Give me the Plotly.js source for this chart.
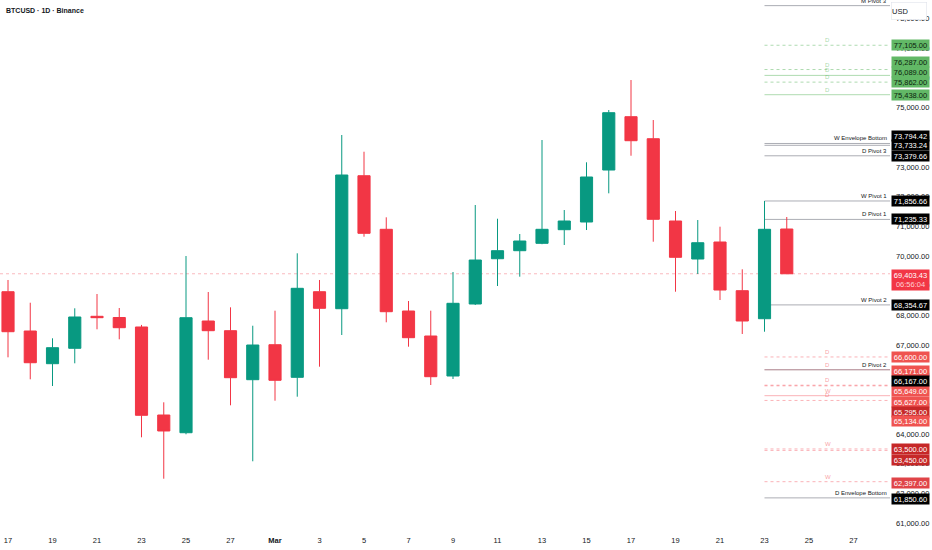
<!DOCTYPE html>
<html>
<head>
<meta charset="utf-8">
<script src="https://cdn.plot.ly/plotly-3.0.1.min.js"></script>
<style>html,body{margin:0;padding:0;background:#fff;}#chart{width:932px;height:550px;}</style>
</head>
<body>
<div id="chart"></div>
<script>
// ---- data ----
const days = ['17','18','19','20','21','22','23','24','25','26','27','28','Mar','2','3','4','5','6','7','8','9','10','11','12','13','14','15','16','17','18','19','20','21','22','23','24'];
const open  = [68799,67475,66373,66892,67970,67930,67610,64644,64047,67812,67485,65834,67013,65914,68799,68226,72708,70902,68149,67306,65958,68385,69911,70181,70430,70889,71148,72900,74697,73955,71182,69901,70474,68833,67889,70912];
const high  = [69194,68428,67229,68240,68722,68250,67680,65072,70002,68789,68273,67653,68159,70093,69194,74080,73517,71306,68486,68159,69463,71721,71259,70744,73911,71552,73160,74922,75933,74585,71519,71215,70990,69554,71856.66,71317];
const low   = [66588,65847,65621,66386,67532,67195,63892,62497,63994,66508,64971,63084,65126,65261,66272,67340,70653,67768,66946,65655,65857,68350,68991,69305,70400,70373,70878,72115,73382,70484,68799,69396,68519,67374,67451,69403.43];
const close = [67451,66406,66912,67947,67923,67586,64634,64105,67923,67485,65901,67003,65813,68914,68240,72732,70767,68125,67249,65935,68408,69867,70181,70508,70902,71182,72665,74832,73888,71239,69958,70450,68856,67812,70902,69403.43];
const tickIdx  = [0,2,4,6,8,10,12,14,16,18,20,22,24,26,28,30,32,34,36,38];
const tickText = ['17','19','21','23','25','27','<b>Mar</b>','3','5','7','9','11','13','15','17','19','21','23','25','27'];

const lastPrice = 69403.43;
const countdown = '06:56:04';

const pivotLevels = [78440, 73794.42, 73733.24, 73379.66, 71856.66, 71235.33, 68354.67, 66167, 61850.6];
const pivotNames  = ['M Pivot 3', 'W Envelope Bottom', '', 'D Pivot 3', 'W Pivot 1', 'D Pivot 1', 'W Pivot 2', 'D Pivot 2', 'D Envelope Bottom'];
const pivotBoxed  = [false, true, true, true, true, true, true, true, true];

const greenLevels  = [77105, 76287, 76089, 75862, 75438];
const greenLetters = ['D','D','D','D','D'];

const redLevels  = [66600, 66171, 65649, 65627, 65295, 65134, 63500, 63450, 62397];
const redLetters = ['D','D','D','','W','D','W','','W'];

// ---- styles (not data) ----
const GREEN = '#089981', RED = '#f23645', TXT = '#131722';
const FONT = 'Liberation Sans, Arial, sans-serif';
const greenDash = ['dot','dot','solid','dot','solid'];
const greenShift = [0, 8, 3, 0, 0];
const redDash = ['dot','solid','dot','dot','solid','dot','dot','dot','dot'];
const redBox  = ['#ef5350','#ef5350','#ef5350','#ef5350','#c62828','#ef5350','#c62828','#c62828','#e04448'];
const redShift = [0, -1, -6, -16, -16, -21, 0, -10, -1];
const pivotShift = [0, 7, 0, 0, 0, 0, 0, -11, -1];

const xs = days.map((d, i) => i);
const levelStart = 34, xRight = 39.64;

const trace = {
  type: 'candlestick', x: xs, open: open, high: high, low: low, close: close,
  increasing: {line: {color: GREEN, width: 1}, fillcolor: GREEN},
  decreasing: {line: {color: RED, width: 1}, fillcolor: RED},
  whiskerwidth: 0, hoverinfo: 'skip'
};

const shapes = [];
const ann = [];
function hline(y, x0, color, dash, w) {
  shapes.push({type: 'line', xref: 'x', yref: 'y', x0: x0, x1: xRight, y0: y, y1: y,
    line: {color: color, width: w || 1, dash: dash}, layer: 'below'});
}
function fmt(v) { return v.toLocaleString('en-US', {minimumFractionDigits: 2, maximumFractionDigits: 2}); }
function box(y, bg, fg, shift) {
  ann.push({xref: 'paper', yref: 'y', x: 1, y: y, xanchor: 'left', yanchor: 'middle', xshift: 1, yshift: shift || 0,
    text: fmt(y), showarrow: false, bgcolor: bg, width: 36, height: 9, borderpad: 0.5,
    font: {family: FONT, size: 7.5, color: fg}});
}
function letter(y, t, color) {
  if (!t) return;
  ann.push({xref: 'x', yref: 'y', x: 36.85, y: y, yanchor: 'bottom', yshift: 0, text: t, showarrow: false,
    font: {family: FONT, size: 6, color: color}});
}

// green levels
greenLevels.forEach((v, i) => {
  hline(v, levelStart, 'rgba(76,175,80,0.45)', greenDash[i]);
  letter(v, greenLetters[i], 'rgba(76,175,80,0.5)');
  box(v, '#62b866', '#0c1f0d', greenShift[i]);
});
// red levels
redLevels.forEach((v, i) => {
  hline(v, levelStart, 'rgba(242,54,69,0.38)', redDash[i]);
  letter(v, redLetters[i], 'rgba(242,54,69,0.5)');
  box(v, redBox[i], '#ffffff', redShift[i]);
});
// pivot levels
pivotLevels.forEach((v, i) => {
  hline(v, levelStart, 'rgba(120,123,134,0.62)', 'solid');
  if (pivotNames[i]) {
    ann.push({xref: 'x', yref: 'y', x: xRight, y: v, xanchor: 'right', yanchor: 'bottom', xshift: -1, yshift: 0,
      text: pivotNames[i], showarrow: false, font: {family: FONT, size: 6, color: TXT}});
  }
  if (pivotBoxed[i]) box(v, '#000000', '#ffffff', pivotShift[i]);
});

// last price line + label
shapes.push({type: 'line', xref: 'paper', yref: 'y', x0: 0, x1: 1, y0: lastPrice, y1: lastPrice,
  line: {color: 'rgba(242,54,69,0.35)', width: 1, dash: 'dot'}, layer: 'below'});
ann.push({xref: 'paper', yref: 'y', x: 1, y: lastPrice, xanchor: 'left', yanchor: 'top', xshift: 1, yshift: 5,
  text: fmt(lastPrice) + '<br><span style="color:#ffd0d3">' + countdown + '</span>', showarrow: false,
  bgcolor: RED, width: 36, height: 19, borderpad: 0.5, font: {family: FONT, size: 7.5, color: '#ffffff'}});

// USD label
ann.push({xref: 'paper', yref: 'paper', x: 1, y: 1, xanchor: 'left', yanchor: 'top', xshift: 1, yshift: -2,
  text: 'USD', showarrow: false, bgcolor: '#ffffff', bordercolor: '#e0e3eb', borderwidth: 0.6,
  width: 34, height: 16, borderpad: 0.5, align: 'left', font: {family: FONT, size: 7.5, color: TXT}});

// title
ann.push({xref: 'paper', yref: 'paper', x: 0, y: 1, xanchor: 'left', yanchor: 'top', xshift: 4, yshift: -5,
  text: '<b>BTCUSD · 1D · Binance</b>', showarrow: false, font: {family: FONT, size: 7, color: TXT}});

const layout = {
  width: 932, height: 550,
  margin: {l: 0, r: 42, t: 0, b: 18},
  paper_bgcolor: '#ffffff', plot_bgcolor: '#ffffff',
  showlegend: false, boxgap: 0.22,
  font: {family: FONT, size: 7.5, color: TXT},
  xaxis: {range: [-0.36, xRight], tickvals: tickIdx, ticktext: tickText, showgrid: false, zeroline: false,
    showline: false, ticks: '', rangeslider: {visible: false}, fixedrange: true,
    tickfont: {family: FONT, size: 7.5, color: TXT}, ticklabelstandoff: 2},
  yaxis: {side: 'right', range: [60701, 78630], tick0: 0, dtick: 1000, tickformat: ',.2f',
    showgrid: false, zeroline: false, showline: false, ticks: '', fixedrange: true,
    tickfont: {family: FONT, size: 7.5, color: TXT}, ticklabelstandoff: 5},
  shapes: shapes, annotations: ann
};

Plotly.newPlot('chart', [trace], layout, {staticPlot: true, displayModeBar: false});
</script>
</body>
</html>
